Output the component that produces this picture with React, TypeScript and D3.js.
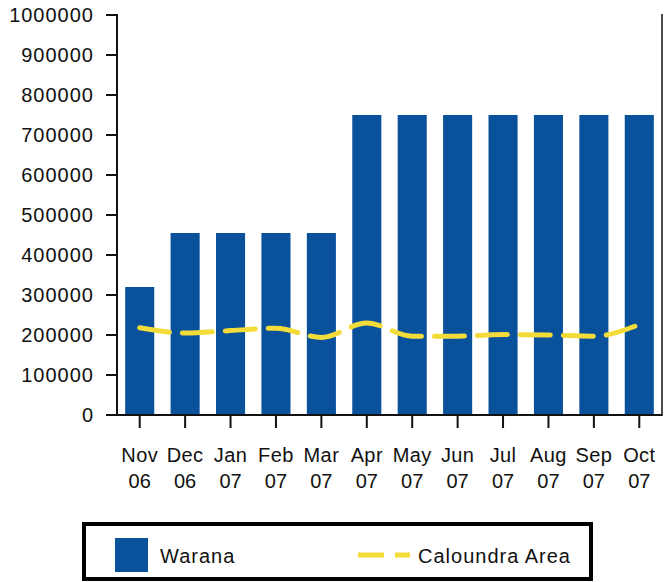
import React from 'react';
import * as d3 from 'd3';

const months = ['Nov', 'Dec', 'Jan', 'Feb', 'Mar', 'Apr', 'May', 'Jun', 'Jul', 'Aug', 'Sep', 'Oct'];
const years = ['06', '06', '07', '07', '07', '07', '07', '07', '07', '07', '07', '07'];
const warana = [320000, 455000, 455000, 455000, 455000, 750000, 750000, 750000, 750000, 750000, 750000, 750000];
const caloundra = [218000, 205000, 211000, 217000, 194000, 230000, 197000, 197000, 201000, 200000, 197000, 226000];
const yTicks = [0, 100000, 200000, 300000, 400000, 500000, 600000, 700000, 800000, 900000, 1000000];

const BLUE = '#0a519c';
const YELLOW = '#f3dc3a';
const FONT = '"Liberation Sans", Arial, sans-serif';

const App = () => {
    const width = 672;
    const height = 582;
    const left = 117;
    const right = 662;
    const top = 15;
    const bottom = 415;

    const x = d3.scaleBand()
        .domain(months)
        .range([left, right])
        .paddingInner(0.36)
        .paddingOuter(0.18);

    const y = d3.scaleLinear()
        .domain([0, 1000000])
        .range([bottom, top]);

    const line = d3.line<number>()
        .x((d, i) => x(months[i])! + x.bandwidth() / 2)
        .y(d => y(d))
        .curve(d3.curveMonotoneX);

    return (
        <svg width={width} height={height} style={{ position: 'absolute', left: 0, top: 0 }}>
            {warana.map((v, i) => (
                <rect
                    key={months[i]}
                    x={x(months[i])}
                    y={y(v)}
                    width={x.bandwidth()}
                    height={bottom - y(v)}
                    fill={BLUE}
                />
            ))}
            <path
                d={line(caloundra) || ''}
                fill="none"
                stroke={YELLOW}
                strokeWidth={5}
                strokeDasharray="30 13"
                strokeLinecap="round"
            />
            {/* axes */}
            <line x1={left} x2={left} y1={top - 1} y2={bottom + 1} stroke="#111" strokeWidth={2} />
            <line x1={left - 1} x2={right} y1={bottom} y2={bottom} stroke="#111" strokeWidth={2} />
            <line x1={right} x2={right} y1={top - 1} y2={bottom + 1} stroke="#111" strokeWidth={1.5} />
            {yTicks.map(t => (
                <g key={t}>
                    <line x1={left - 11} x2={left} y1={y(t)} y2={y(t)} stroke="#111" strokeWidth={2} />
                    <text
                        x={94}
                        y={y(t)}
                        dy="0.36em"
                        textAnchor="end"
                        fontSize={20}
                        letterSpacing={1}
                        fontFamily={FONT}
                        fill="#111"
                    >
                        {t}
                    </text>
                </g>
            ))}
            {months.map((m, i) => {
                const cx = x(m)! + x.bandwidth() / 2;
                return (
                    <g key={m}>
                        <line x1={cx} x2={cx} y1={bottom} y2={bottom + 13} stroke="#111" strokeWidth={2} />
                        <text x={cx} y={462} textAnchor="middle" fontSize={20} letterSpacing={0.4} fontFamily={FONT} fill="#111">
                            {m}
                        </text>
                        <text x={cx} y={488} textAnchor="middle" fontSize={20} fontFamily={FONT} fill="#111">
                            {years[i]}
                        </text>
                    </g>
                );
            })}
            {/* legend */}
            <rect x={84} y={524} width={507} height={55} fill="#fff" stroke="#000" strokeWidth={4} />
            <rect x={115} y={538} width={33} height={34} fill={BLUE} />
            <text x={160} y={563} fontSize={20} letterSpacing={1} fontFamily={FONT} fill="#111">Warana</text>
            <line x1={358} x2={410} y1={555} y2={555} stroke={YELLOW} strokeWidth={5} strokeDasharray="26 11" />
            <text x={418} y={563} fontSize={20} letterSpacing={1} fontFamily={FONT} fill="#111">Caloundra Area</text>
        </svg>
    );
};

export default App;
